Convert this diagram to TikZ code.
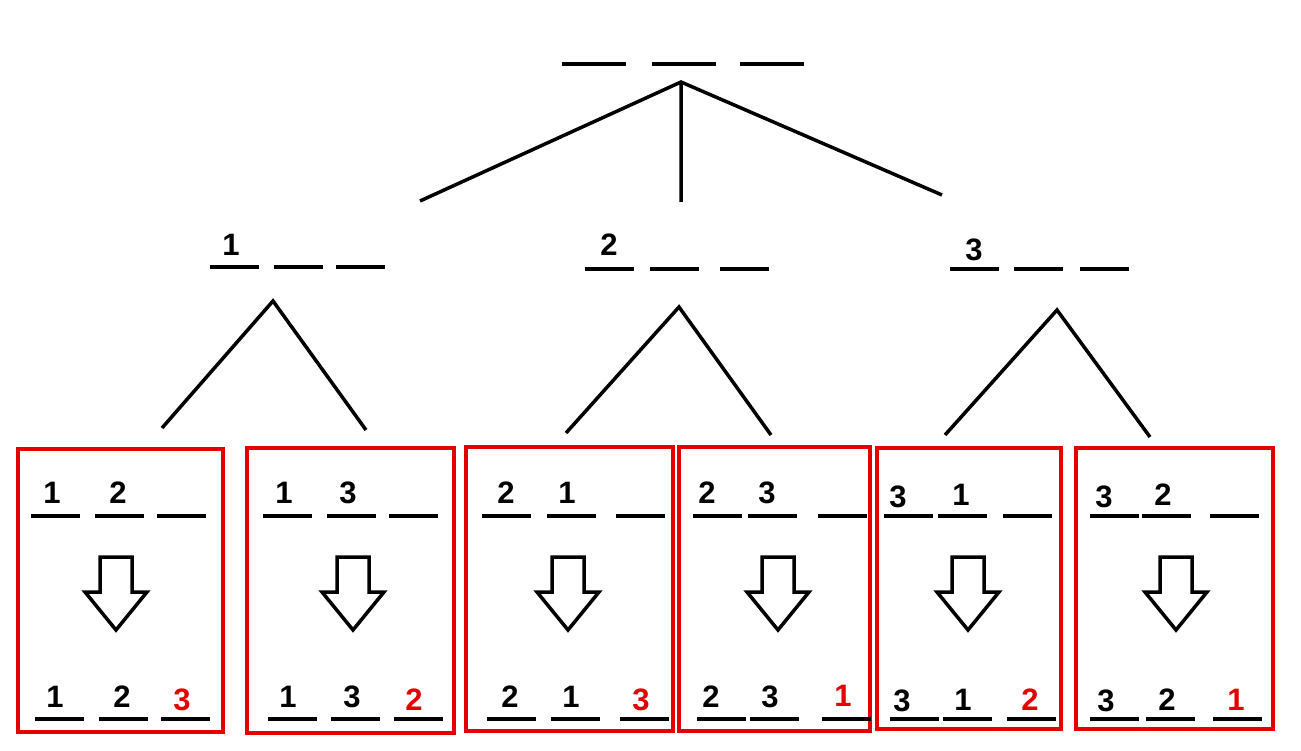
\documentclass[tikz,border=0pt]{standalone}
\usepackage{fontspec}
\setmainfont{Liberation Sans}
\begin{document}
\begin{tikzpicture}[x=1pt,y=-1pt,
  seg/.style={line width=4pt},
  edge/.style={line width=3.5pt},
  num/.style={font=\fontsize{31}{31}\selectfont\bfseries, inner sep=0pt},
  rnum/.style={num, text=red!90!black},
  box/.style={draw=red!90!black, line width=3.5pt},
  barrow/.style={draw=black, line width=3.5pt, fill=white, line join=miter}]
\useasboundingbox (0,0) rectangle (1301,751);
% top
\draw[seg] (562,64)--(626,64) (652,64)--(716,64) (740,64)--(804,64);
\coordinate (top) at (681,82);
\coordinate (t1) at (420,201); \coordinate (t2) at (681,202); \coordinate (t3) at (942,195);
\draw[edge] (t1)--(top)--(t3) (top)--(t2);
% level 2
\node[num] (n1) at (231,245) {1};
\draw[seg] (210,267)--(259,267) (274,267)--(323,267) (336,267)--(385,267);
\coordinate (a1) at (273,301); \coordinate (a1l) at (162,428); \coordinate (a1r) at (366,430);
\draw[edge] (a1l)--(a1)--(a1r);
\node[num] (n2) at (609,245) {2};
\draw[seg] (585,269)--(634,269) (650,269)--(699,269) (720,269)--(769,269);
\coordinate (a2) at (679,307); \coordinate (a2l) at (566,433); \coordinate (a2r) at (771,435);
\draw[edge] (a2l)--(a2)--(a2r);
\node[num] (n3) at (974,250) {3};
\draw[seg] (950,269)--(999,269) (1014,269)--(1063,269) (1080,269)--(1129,269);
\coordinate (a3) at (1057,310); \coordinate (a3l) at (945,435); \coordinate (a3r) at (1150,437);
\draw[edge] (a3l)--(a3)--(a3r);
% boxes
\def\mkbox#1#2#3#4#5{%
  \draw[box] (#1,#3) rectangle (#2,#4);
  \draw[barrow] (#5-16,557)--(#5+16,557)--(#5+16,592)--(#5+31,592)--(#5,630)--(#5-31,592)--(#5-16,592)--cycle;
}
\def\dashes#1#2#3#4{\draw[seg] (#1,#4)--++(49,0) (#2,#4)--++(49,0) (#3,#4)--++(49,0);}
% box1
\mkbox{18}{223}{449}{732}{116}
\dashes{31}{95}{157}{516}\node[num] (b1a) at (52,493){1};\node[num] (b1b) at (118,493){2};
\dashes{35}{99}{161}{719}\node[num] (b1c) at (55,697){1};\node[num] (b1d) at (122,697){2};\node[rnum] (b1e) at (182,700){3};
% box2
\mkbox{247}{454}{448}{733}{353}
\dashes{263}{327}{389}{516}\node[num] (b2a) at (284,493){1};\node[num] (b2b) at (348,493){3};
\dashes{268}{331}{394}{719}\node[num] (b2c) at (288,697){1};\node[num] (b2d) at (352,697){3};\node[rnum] (b2e) at (414,700){2};
% box3
\mkbox{466}{673}{447}{731}{568}
\dashes{482}{547}{616}{516}\node[num] (b3a) at (506,493){2};\node[num] (b3b) at (567,493){1};
\dashes{487}{551}{620}{719}\node[num] (b3c) at (510,697){2};\node[num] (b3d) at (571,697){1};\node[rnum] (b3e) at (641,700){3};
% box4
\mkbox{679}{870}{447}{731}{778}
\dashes{693}{748}{818}{516}\node[num] (b4a) at (707,493){2};\node[num] (b4b) at (767,493){3};
\dashes{697}{750}{822}{719}\node[num] (b4c) at (711,697){2};\node[num] (b4d) at (770,697){3};\node[rnum] (b4e) at (843,696){1};
% box5
\mkbox{877}{1061}{448}{729}{968}
\dashes{884}{938}{1003}{516}\node[num] (b5a) at (898,497){3};\node[num] (b5b) at (961,495){1};
\dashes{890}{943}{1007}{719}\node[num] (b5c) at (902,701){3};\node[num] (b5d) at (963,700){1};\node[rnum] (b5e) at (1030,700){2};
% box6
\mkbox{1076}{1273}{448}{729}{1176}
\dashes{1090}{1142}{1210}{516}\node[num] (b6a) at (1104,497){3};\node[num] (b6b) at (1163,495){2};
\dashes{1090}{1146}{1213}{719}\node[num] (b6c) at (1106,701){3};\node[num] (b6d) at (1167,700){2};\node[rnum] (b6e) at (1236,700){1};
\end{tikzpicture}
\end{document}
